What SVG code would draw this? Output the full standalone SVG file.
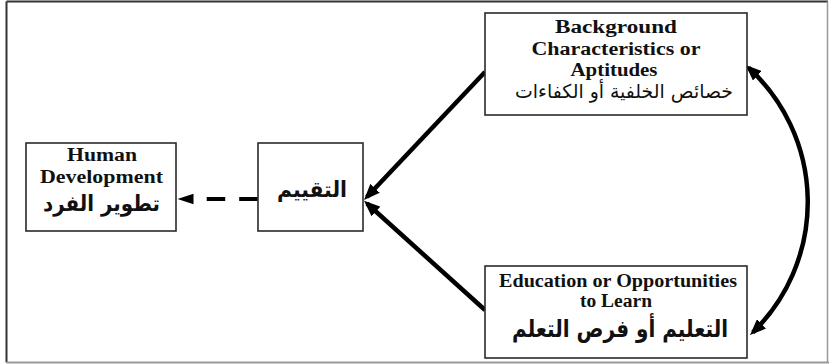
<svg xmlns="http://www.w3.org/2000/svg" width="829" height="364" viewBox="0 0 829 364">
<style>
.box{fill:#fff;stroke:#2a2a2a;stroke-width:1.6}
.en{font-family:"Liberation Serif","Times New Roman",serif;font-weight:bold;font-size:18px;fill:#111;text-anchor:middle}
.ar{font-family:"DejaVu Sans",sans-serif;fill:#111;text-anchor:middle}
.con{fill:none;stroke:#000;stroke-width:4.5}
</style>
<defs>
<marker id="ah" markerUnits="userSpaceOnUse" markerWidth="17" markerHeight="13" refX="12" refY="6.5" orient="auto-start-reverse" viewBox="0 0 17 13">
<path d="M0,0 L16,6.5 L0,13 Z" fill="#000"/>
</marker>
</defs>
<rect width="829" height="364" fill="#fff"/>
<g id="frame">
<line x1="6.5" y1="1.5" x2="828" y2="1.5" stroke="#333" stroke-width="2"/>
<line x1="6.5" y1="1.5" x2="6.5" y2="362.5" stroke="#333" stroke-width="2"/>
<line x1="6.5" y1="362.5" x2="829" y2="362.5" stroke="#999" stroke-width="2"/>
<line x1="827.5" y1="1.5" x2="827.5" y2="362.5" stroke="#999" stroke-width="1.5"/>
</g>
<g id="connectors">
<line class="con" x1="485" y1="72" x2="366.8" y2="197" marker-end="url(#ah)"/>
<line class="con" x1="485" y1="310" x2="367" y2="203.5" marker-end="url(#ah)"/>
<path class="con" d="M748.5,67.7 A182,182 0 0 1 752.9,332.3" marker-start="url(#ah)" marker-end="url(#ah)"/>
<line x1="257.7" y1="199" x2="193" y2="199" stroke="#000" stroke-width="4" stroke-dasharray="18.5 14"/>
<path d="M177.5,199 L193.5,193.8 L193.5,204.2 Z" fill="#000"/>
</g>
<g id="background">
<rect class="box" x="485" y="13" width="262" height="102"/>
<text class="en" x="616" y="33" textLength="122" lengthAdjust="spacingAndGlyphs">Background</text>
<text class="en" x="616" y="55" textLength="169" lengthAdjust="spacingAndGlyphs">Characteristics or</text>
<text class="en" x="614" y="76" textLength="87" lengthAdjust="spacingAndGlyphs">Aptitudes</text>
<text class="ar" x="624" y="98" font-size="19" textLength="218" lengthAdjust="spacingAndGlyphs">خصائص الخلفية أو الكفاءات</text>
</g>
<g id="education">
<rect class="box" x="485" y="266" width="262" height="92"/>
<text class="en" x="618" y="287" textLength="238" lengthAdjust="spacingAndGlyphs">Education or Opportunities</text>
<text class="en" x="616" y="307" textLength="72" lengthAdjust="spacingAndGlyphs">to Learn</text>
<text class="ar" x="620" y="337" font-size="24" font-weight="bold" textLength="216" lengthAdjust="spacingAndGlyphs">التعليم أو فرص التعلم</text>
</g>
<g id="human">
<rect class="box" x="26" y="143" width="150" height="88"/>
<text class="en" x="102" y="161" textLength="70" lengthAdjust="spacingAndGlyphs">Human</text>
<text class="en" x="101.5" y="183" textLength="123" lengthAdjust="spacingAndGlyphs">Development</text>
<text class="ar" x="101.5" y="211" font-size="22" font-weight="bold" textLength="117" lengthAdjust="spacingAndGlyphs">تطوير الفرد</text>
</g>
<g id="assessment">
<rect class="box" x="258" y="143" width="105" height="88"/>
<text class="ar" x="312" y="197" font-size="22" font-weight="bold" textLength="70" lengthAdjust="spacingAndGlyphs">التقييم</text>
</g>
</svg>
